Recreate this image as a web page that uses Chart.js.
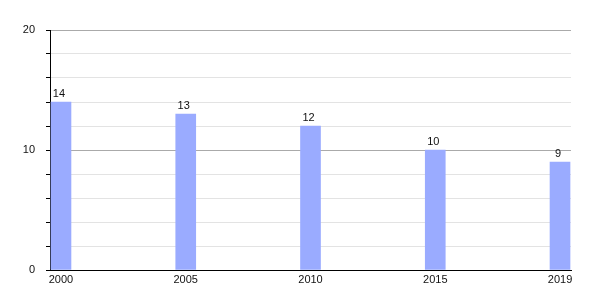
<!DOCTYPE html>
<html>
<head>
<meta charset="utf-8">
<script src="https://cdn.jsdelivr.net/npm/chart.js@4/dist/chart.umd.min.js"></script>
<style>
  html, body { margin: 0; padding: 0; background: #fff; }
  #wrap { width: 600px; height: 300px; }
</style>
</head>
<body>
<div id="wrap"><canvas id="chart"></canvas></div>
<script>
// data
const years = ['2000', '2005', '2010', '2015', '2019'];
const values = [14, 13, 12, 10, 9];
const yTicks = [0, 10, 20];

// small plugin: value above each bar
const valueLabels = {
    id: 'valueLabels',
    afterDatasetsDraw(chart) {
        const ctx = chart.ctx;
        const meta = chart.getDatasetMeta(0);
        ctx.save();
        ctx.font = '11px "Liberation Sans", Arial, sans-serif';
        ctx.fillStyle = '#111';
        ctx.textAlign = 'center';
        ctx.textBaseline = 'bottom';
        meta.data.forEach((bar, i) => {
            ctx.fillText(String(values[i]), bar.x - 2, bar.y - 3);
        });
        ctx.restore();
    }
};

const pad = 0.088;

new Chart(document.getElementById('chart'), {
    type: 'bar',
    data: {
        datasets: [{
            data: years.map((y, i) => ({ x: i, y: values[i] })),
            backgroundColor: '#9aabff',
            borderWidth: 0,
            barThickness: 20
        }]
    },
    options: {
        responsive: true,
        maintainAspectRatio: false,
        animation: false,
        layout: { padding: { top: 30, right: 29, left: 0, bottom: 0 } },
        plugins: {
            legend: { display: false },
            tooltip: { enabled: false }
        },
        scales: {
            x: {
                type: 'linear',
                offset: false,
                min: -pad,
                max: years.length - 1 + pad,
                afterBuildTicks: scale => {
                    scale.ticks = years.map((_, i) => ({ value: i }));
                },
                afterFit: scale => { scale.height = 30; },
                grid: { display: false, drawTicks: false },
                border: { display: true, color: '#000', width: 1 },
                ticks: {
                    padding: 3,
                    autoSkip: false,
                    maxRotation: 0,
                    color: '#111',
                    font: { family: '"Liberation Sans", Arial, sans-serif', size: 11 },
                    callback: v => years[v]
                }
            },
            y: {
                min: 0,
                max: 20,
                afterFit: scale => { scale.width = 50; },
                grid: {
                    color: c => (yTicks.includes(c.tick.value) ? '#aaaaaa' : '#e3e3e3'),
                    tickColor: '#000',
                    tickLength: 4,
                    drawTicks: true
                },
                border: { display: true, color: '#000', width: 1 },
                ticks: {
                    stepSize: 2,
                    padding: 11,
                    color: '#111',
                    font: { family: '"Liberation Sans", Arial, sans-serif', size: 11 },
                    callback: v => (yTicks.includes(v) ? String(v) : '')
                }
            }
        }
    },
    plugins: [valueLabels]
});
</script>
</body>
</html>
